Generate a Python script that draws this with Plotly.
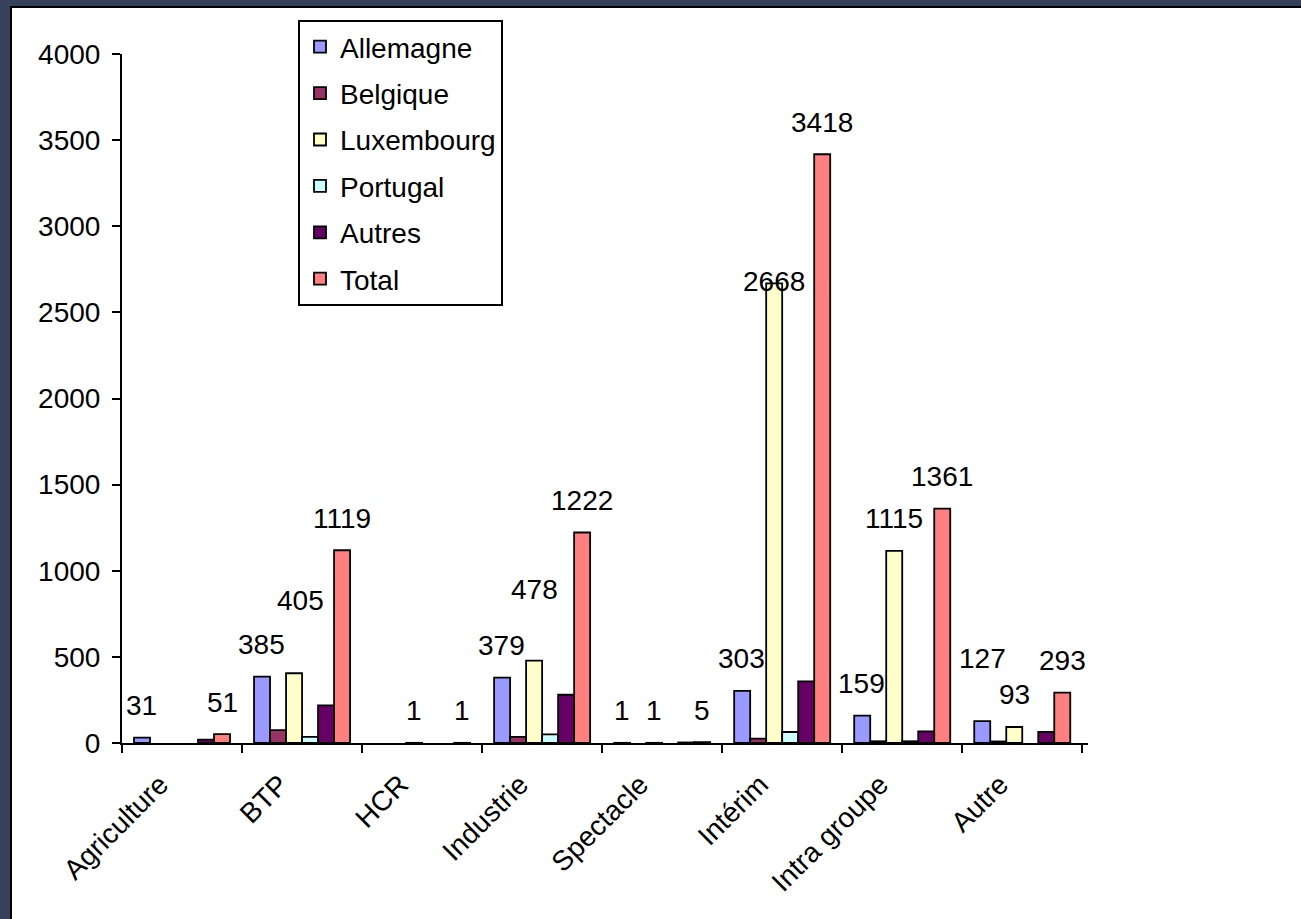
import plotly.graph_objects as go

# ---------------- data ----------------
categories = ["Agriculture", "BTP", "HCR", "Industrie", "Spectacle", "Intérim", "Intra groupe", "Autre"]
series_names = ["Allemagne", "Belgique", "Luxembourg", "Portugal", "Autres", "Total"]
allemagne = [31, 385, None, 379, 1, 303, 159, 127]
belgique = [None, 75, None, 35, None, 25, 10, 9]
luxembourg = [None, 405, 1, 478, 1, 2668, 1115, 93]
portugal = [None, 36, None, 50, None, 64, 10, None]
autres = [20, 218, None, 280, 3, 358, 67, 64]
total = [51, 1119, 1, 1222, 5, 3418, 1361, 293]
labelled_series = ["Allemagne", "Luxembourg", "Total"]
y_ticks = [0, 500, 1000, 1500, 2000, 2500, 3000, 3500, 4000]
title_text = "Détachements par secteur d'activité et pays d'origine (2007)"

# ---------------- style ----------------
colors = ["#9999FF", "#993366", "#FFFFCC", "#CCFFFF", "#660066", "#FF8080"]
W, H = 1301, 919
ML, MR, MT, MB = 122, 213, 54, 176
PW, PH = W - ML - MR, H - MT - MB
BARGAP = 0.2
FONT = "Liberation Sans, Arial, sans-serif"
# label vertical offsets (px above bar top); default 32
label_shift_default = 32
label_shift_special = {("Luxembourg", "BTP"): (6, 73),
                       ("Luxembourg", "Industrie"): (0, 71),
                       ("Luxembourg", "Intérim"): (0, 2),
                       ("Allemagne", "Autre"): (0, 63)}

data = [allemagne, belgique, luxembourg, portugal, autres, total]

fig = go.Figure()
for name, vals, col in zip(series_names, data, colors):
    fig.add_trace(go.Bar(
        x=categories, y=vals, name=name, legendgroup=name,
        marker=dict(color=col, line=dict(color="black", width=1.8)),
    ))

# data labels
n_series = len(series_names)
bar_w = PW / len(categories) * (1 - BARGAP) / n_series
annotations = []
for i, (name, vals) in enumerate(zip(series_names, data)):
    if name not in labelled_series:
        continue
    for cat, v in zip(categories, vals):
        if v is None:
            continue
        dx, dy = label_shift_special.get((name, cat), (0, label_shift_default))
        annotations.append(dict(
            x=cat, y=v, xref="x", yref="y", text=str(v), showarrow=False,
            xanchor="center", yanchor="middle",
            xshift=(i - (n_series - 1) / 2) * bar_w + dx, yshift=dy,
            font=dict(family=FONT, size=28, color="black"),
        ))

# cut-off title (white serif on dark frame): only its descenders show
annotations.append(dict(
    x=(700 - ML) / PW, y=(MT + PH - 1) / PH, xref="paper", yref="paper",
    text=title_text, showarrow=False, xanchor="center", yanchor="bottom",
    yshift=0, font=dict(family="Liberation Serif, Times New Roman, serif", size=40, color="white"),
))

shapes = [dict(
    type="rect", xref="paper", yref="paper", layer="below",
    x0=(11 - ML) / PW, x1=(W + 40 - ML) / PW,
    y0=-(MB + 40) / PH, y1=(PH + MT - 7) / PH,
    fillcolor="white", line=dict(color="black", width=2),
)]

fig.update_layout(
    width=W, height=H,
    margin=dict(l=ML, r=MR, t=MT, b=MB, pad=0),
    paper_bgcolor="#37405A", plot_bgcolor="rgba(0,0,0,0)",
    barmode="group", bargap=BARGAP, bargroupgap=0,
    font=dict(family=FONT, size=28, color="black"),
    showlegend=True,
    legend=dict(
        x=(298 - ML) / PW, y=(PH + MT - 20) / PH, xanchor="left", yanchor="top",
        bgcolor="white", bordercolor="black", borderwidth=2,
        font=dict(family=FONT, size=28, color="black"),
        traceorder="grouped", tracegroupgap=7,
    ),
    annotations=annotations, shapes=shapes,
    xaxis=dict(
        type="category", showline=True, linecolor="black", linewidth=2,
        ticks="outside", ticklen=8, tickwidth=1.5, tickcolor="black",
        tickson="boundaries", tickangle=-45, showgrid=False,
        ticklabelshift=-22, ticklabelstandoff=12,
        tickfont=dict(family=FONT, size=28, color="black"),
    ),
    yaxis=dict(
        range=[0, 4000], tickvals=y_ticks, showline=True, linecolor="black", linewidth=2,
        ticks="outside", ticklen=8, tickwidth=1.5, tickcolor="black",
        showgrid=False, zeroline=False, ticklabelstandoff=6,
        tickfont=dict(family=FONT, size=28, color="black"),
    ),
)

fig.write_html("out.html")
